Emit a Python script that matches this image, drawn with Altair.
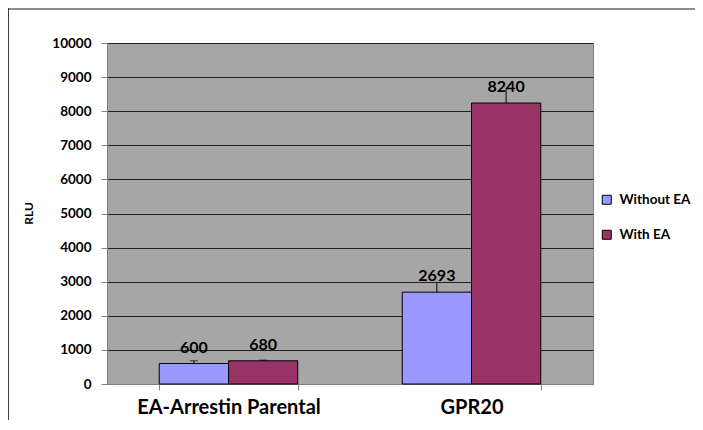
import altair as alt
import pandas as pd

categories = ["EA-Arrestin Parental", "GPR20"]
series = ["Without EA", "With EA"]
without_ea = [600, 2693]
with_ea = [680, 8240]
err_without = [80, 270]
err_with = [20, 450]
colors = ["#9999FF", "#993366"]
y_ticks = [0, 1000, 2000, 3000, 4000, 5000, 6000, 7000, 8000, 9000, 10000]

rows = []
for i, c in enumerate(categories):
    rows.append({"category": c, "series": series[0], "value": without_ea[i], "err": err_without[i]})
    rows.append({"category": c, "series": series[1], "value": with_ea[i], "err": err_with[i]})
df = pd.DataFrame(rows)
df["top"] = df["value"] + df["err"]

FONT = "Lato"

x_enc = alt.X("category:N", sort=categories, title=None,
              scale=alt.Scale(paddingInner=0.43, paddingOuter=0.215),
              axis=alt.Axis(labelAngle=0, labelFontSize=20, labelFontWeight="bold", labelFont=FONT,
                            labelColor="black", labelPadding=7, labelLimit=400, tickBand="extent",
                            tickSize=6, tickColor="#808080", domainColor="#808080", grid=False))
xo_enc = alt.XOffset("series:N", sort=series, scale=alt.Scale(paddingInner=0, paddingOuter=0))

base = alt.Chart(df).encode(x=x_enc, xOffset=xo_enc)

bars = base.mark_bar(stroke="black", strokeWidth=1).encode(
    y=alt.Y("value:Q", scale=alt.Scale(domain=[0, 10000]), title="RLU",
            axis=alt.Axis(values=y_ticks, tickCount=11, format="d", labelOverlap=False,
                          labelFontSize=13.5, labelFontWeight="bold", labelFont=FONT, labelColor="black",
                          tickColor="#808080", tickSize=6, labelPadding=10, domainColor="#808080",
                          gridColor="#202020", gridWidth=1,
                          titleFont=FONT, titleFontSize=12, titleFontWeight="bold", titleColor="black",
                          titleX=-72, titleY=170)),
    color=alt.Color("series:N", sort=series, scale=alt.Scale(domain=series, range=colors),
                    legend=alt.Legend(title=None, orient="none", legendX=493, legendY=150,
                                      symbolType="square", symbolSize=81, symbolStrokeColor="black",
                                      symbolStrokeWidth=1, labelFontSize=13.5, labelFontWeight="bold",
                                      labelFont=FONT, labelColor="black", labelLimit=200,
                                      rowPadding=20, labelOffset=6)),
)

err = base.mark_rule(color="black", strokeWidth=1).encode(y="value:Q", y2="top:Q")

caps = base.transform_filter(alt.datum.category == categories[0]).mark_tick(
    color="black", thickness=1, size=8).encode(y="top:Q")

labels = base.mark_text(baseline="bottom", dy=-8, fontWeight="bold", fontSize=16, font=FONT,
                        color="black").encode(y="value:Q", text="value:Q")

frame_df = pd.DataFrame({"a": [0]})
frame_top = alt.Chart(frame_df).mark_rule(color="#8c8c8c", strokeWidth=2).encode(
    x=alt.value(-99), x2=alt.value(600), y=alt.value(-34))
frame_left = alt.Chart(frame_df).mark_rule(color="#404040", strokeWidth=1).encode(
    x=alt.value(-98.5), y=alt.value(-35), y2=alt.value(378))

chart = alt.layer(bars, err, caps, labels, frame_top, frame_left).properties(
    width=486, height=341,
    autosize=alt.AutoSizeParams(type="none"),
    padding={"left": 99, "top": 35, "right": 102, "bottom": 36},
    background="white",
).configure_view(fill="#A6A6A6", stroke="#808080", strokeWidth=1)

chart.save("out.html", embed_options={"renderer": "svg", "actions": False})
